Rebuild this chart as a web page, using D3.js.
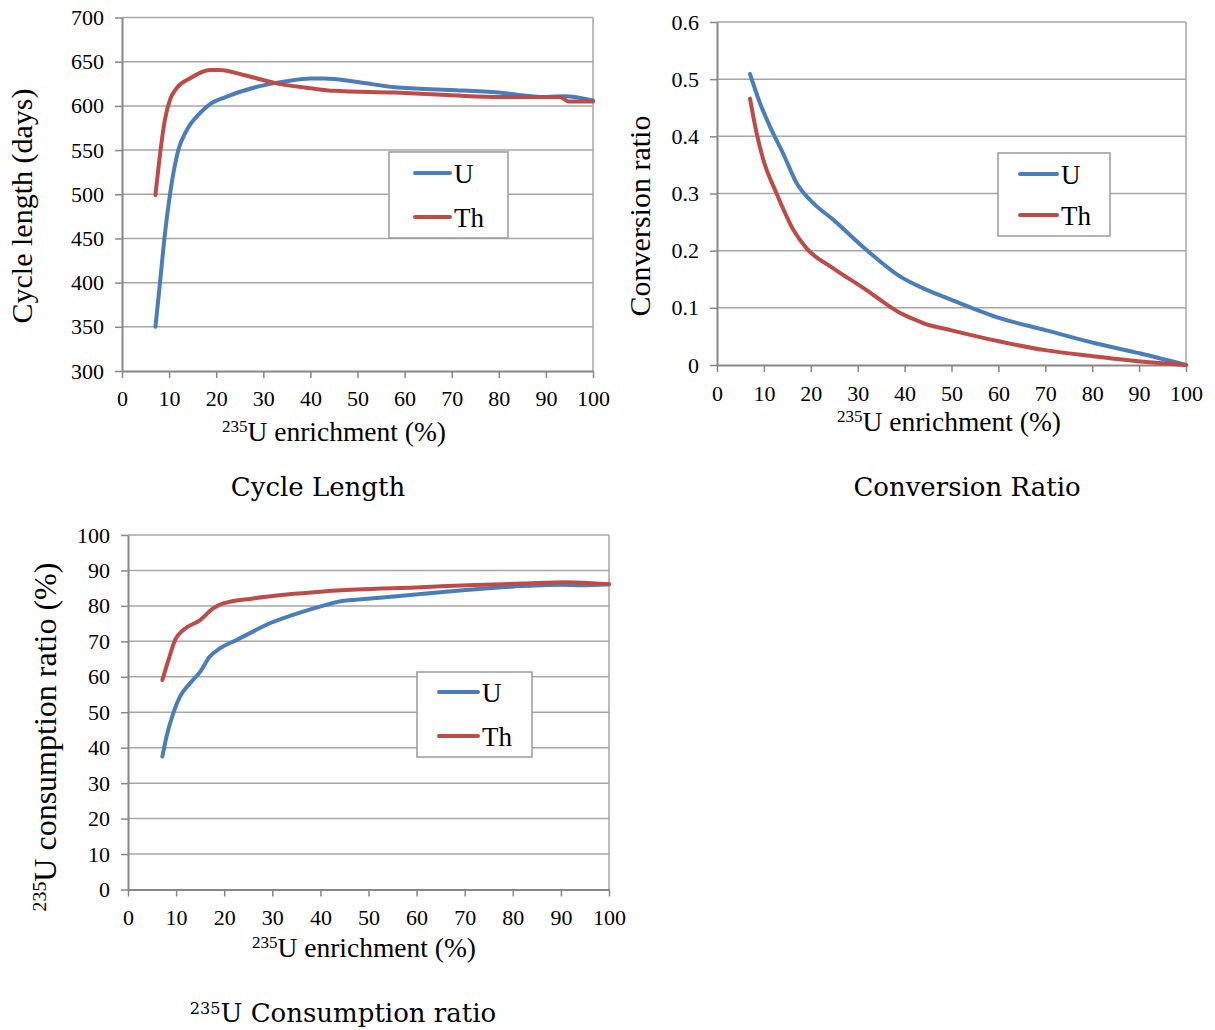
<!DOCTYPE html>
<html>
<head>
<meta charset="utf-8">
<script src="https://cdn.jsdelivr.net/npm/d3@7"></script>
<style>
  html, body { margin: 0; padding: 0; background: #fff; }
  svg { display: block; }
  text { font-family: "Liberation Serif", "Times New Roman", serif; fill: #000; }
  .caption { font-family: "DejaVu Serif", serif; }
</style>
</head>
<body>
<svg id="chart" width="1215" height="1030"></svg>
<script>
// ---------------- DATA ----------------
const seriesNames = ["U", "Th"];
const xTicks = [0, 10, 20, 30, 40, 50, 60, 70, 80, 90, 100];

// Panel 1: Cycle length (days)
const cycleTicks = [300, 350, 400, 450, 500, 550, 600, 650, 700];
const cycleU_x = [7.1, 8.07, 9.0, 10.19, 11.96, 13.7, 16.6, 18.7, 22, 29, 35, 40, 43, 50, 58, 70, 80, 90, 94, 100];
const cycleU_y = [350, 400, 450, 500, 550, 572, 592, 602, 610, 622, 628, 631, 631, 627, 621, 618, 615, 610, 611, 606];
const cycleTh_x = [7.1, 8, 9.1, 10.2, 11.6, 14.4, 18.7, 20.8, 25.8, 32.8, 40, 45, 58, 70, 80, 93, 94.8, 100];
const cycleTh_y = [499, 542, 584, 607, 620, 631, 640.5, 640.5, 635, 625.5, 620, 617, 615, 612, 610, 610, 605, 605];

// Panel 2: Conversion ratio
const convTicks = [0, 0.1, 0.2, 0.3, 0.4, 0.5, 0.6];
const convU_x = [7.04, 9.17, 11.3, 14.1, 17.0, 19.8, 24.8, 31.9, 39.0, 44.0, 50, 60.3, 70, 80.6, 90.3, 100];
const convU_y = [0.509, 0.458, 0.417, 0.370, 0.318, 0.289, 0.254, 0.201, 0.155, 0.134, 0.114, 0.082, 0.061, 0.038, 0.020, 0];
const convTh_x = [7.04, 8.46, 9.88, 12.7, 16.3, 19.1, 24.8, 31.9, 36, 39.3, 42, 44.1, 49.8, 60.3, 70, 80.6, 90.3, 100];
const convTh_y = [0.466, 0.405, 0.359, 0.300, 0.236, 0.204, 0.169, 0.131, 0.107, 0.090, 0.080, 0.073, 0.061, 0.041, 0.026, 0.015, 0.006, 0];

// Panel 3: 235U consumption ratio (%)
const consTicks = [0, 10, 20, 30, 40, 50, 60, 70, 80, 90, 100];
const consU_x = [7.14, 8.0, 9.4, 10.8, 12.9, 15.0, 17.0, 19.1, 22.6, 29.5, 36.4, 39.9, 44.2, 49.9, 59.8, 69.6, 80.3, 90.1, 94.3, 100];
const consU_y = [37.5, 43.1, 49.7, 54.4, 58.2, 61.4, 65.7, 68.0, 70.4, 75.1, 78.4, 79.8, 81.3, 82.0, 83.2, 84.4, 85.5, 86.0, 85.8, 86.1];
const consTh_x = [7.14, 8.4, 9.8, 11.5, 15.0, 17.7, 19.8, 26.0, 33.0, 40.0, 47.5, 59.8, 72.1, 81.9, 91, 100];
const consTh_y = [59.1, 64.7, 70.4, 73.2, 76.0, 79.3, 80.7, 82.1, 83.2, 84.0, 84.6, 85.2, 85.9, 86.3, 86.7, 86.1];

// ---------------- STYLE ----------------
const colors = { U: "#4a7ebb", Th: "#be4b48" };
const gridColor = "#a6a6a6";
const axisColor = "#878787";

const svg = d3.select("#chart");

function zip(xs, ys) { return xs.map((x, i) => ({ x: x, y: ys[i] })); }

function supLabel(sel, sup, rest) {
  sel.append("tspan").attr("font-size", "0.62em").attr("dy", "-0.5em").text(sup);
  sel.append("tspan").attr("dy", "0.31em").text(rest);
}

function panel(cfg) {
  const x = d3.scaleLinear().domain([0, 100]).range([cfg.x0, cfg.x1]);
  const y = d3.scaleLinear().domain(cfg.yDomain).range([cfg.yBot, cfg.yTop]);
  const g = svg.append("g");

  // gridlines
  g.append("g").selectAll("line").data(cfg.yTicks.slice(1)).join("line")
    .attr("x1", cfg.x0).attr("x2", cfg.x1)
    .attr("y1", d => y(d)).attr("y2", d => y(d))
    .attr("stroke", gridColor).attr("stroke-width", 1.5);
  // right border
  g.append("line").attr("x1", cfg.x1).attr("x2", cfg.x1)
    .attr("y1", cfg.yTop).attr("y2", cfg.yBot)
    .attr("stroke", gridColor).attr("stroke-width", 1.5);

  // y axis
  const yAxis = d3.axisLeft(y).tickValues(cfg.yTicks).tickSize(7).tickSizeOuter(0)
    .tickFormat(cfg.yFormat).tickPadding(11);
  const ya = g.append("g").attr("transform", `translate(${cfg.x0},0)`).call(yAxis);
  ya.attr("font-family", null);
  ya.select(".domain").attr("stroke", axisColor).attr("stroke-width", 2);
  ya.selectAll(".tick line").attr("stroke", axisColor).attr("stroke-width", 1.5);
  ya.selectAll(".tick text").attr("font-family", "Liberation Serif, Times New Roman, serif").attr("font-size", 22).attr("fill", "#000");

  // x axis
  const xAxis = d3.axisBottom(x).tickValues(xTicks).tickSize(7).tickSizeOuter(0).tickPadding(cfg.xPad);
  const xa = g.append("g").attr("transform", `translate(0,${cfg.yBot})`).call(xAxis);
  xa.attr("font-family", null);
  xa.select(".domain").attr("stroke", axisColor).attr("stroke-width", 2);
  xa.selectAll(".tick line").attr("stroke", axisColor).attr("stroke-width", 1.5);
  xa.selectAll(".tick text").attr("font-family", "Liberation Serif, Times New Roman, serif").attr("font-size", 22).attr("fill", "#000");

  // lines
  const line = d3.line().x(d => x(d.x)).y(d => y(d.y)).curve(d3.curveMonotoneX);
  cfg.series.forEach(s => {
    g.append("path").datum(s.data).attr("d", line)
      .attr("fill", "none").attr("stroke", colors[s.name])
      .attr("stroke-width", 4).attr("stroke-linecap", "round").attr("stroke-linejoin", "round");
  });

  // x title
  const xt = g.append("text").attr("x", cfg.xTitleX).attr("y", cfg.xTitleY)
    .attr("text-anchor", "middle").attr("font-size", 27.5);
  supLabel(xt, "235", "U enrichment (%)");

  // y title
  const yt = g.append("text")
    .attr("transform", `translate(${cfg.yTitleX},${cfg.yTitleY}) rotate(-90)`)
    .attr("text-anchor", "middle").attr("font-size", cfg.yTitleSize);
  if (cfg.yTitleSup) supLabel(yt, cfg.yTitleSup, cfg.yTitle);
  else yt.text(cfg.yTitle);

  // legend
  const L = cfg.legend;
  const lg = g.append("g");
  lg.append("rect").attr("x", L.x).attr("y", L.y).attr("width", L.w).attr("height", L.h)
    .attr("fill", "#fff").attr("stroke", "#9a9a9a").attr("stroke-width", 1.5);
  seriesNames.forEach((name, i) => {
    const ly = L.rowY[i];
    lg.append("line").attr("x1", L.lx1).attr("x2", L.lx2).attr("y1", ly).attr("y2", ly)
      .attr("stroke", colors[name]).attr("stroke-width", 4).attr("stroke-linecap", "round");
    lg.append("text").attr("x", L.lx2 + 4).attr("y", ly + 10).attr("font-size", 27).text(name);
  });

  // caption
  if (cfg.caption) {
    const ct = svg.append("text").attr("class", "caption")
      .attr("x", cfg.caption.x).attr("y", cfg.caption.y)
      .attr("text-anchor", "middle").attr("font-size", 26)
      .attr("font-family", "DejaVu Serif");
    if (cfg.caption.sup) supLabel(ct, cfg.caption.sup, cfg.caption.text);
    else ct.text(cfg.caption.text);
  }
}

panel({
  x0: 122, x1: 593, yTop: 17.5, yBot: 371,
  yDomain: [300, 700], yTicks: cycleTicks, yFormat: d3.format("d"), xPad: 12,
  series: [{ name: "U", data: zip(cycleU_x, cycleU_y) }, { name: "Th", data: zip(cycleTh_x, cycleTh_y) }],
  xTitleX: 334, xTitleY: 441,
  yTitle: "Cycle length (days)", yTitleX: 32, yTitleY: 206, yTitleSize: 30,
  legend: { x: 389, y: 152, w: 119, h: 86, lx1: 415, lx2: 450, rowY: [173, 217] },
  caption: { x: 318, y: 496, text: "Cycle Length" }
});

panel({
  x0: 717, x1: 1186, yTop: 22, yBot: 365,
  yDomain: [0, 0.6], yTicks: convTicks, yFormat: d => d === 0 ? "0" : d3.format(".1f")(d), xPad: 13,
  series: [{ name: "U", data: zip(convU_x, convU_y) }, { name: "Th", data: zip(convTh_x, convTh_y) }],
  xTitleX: 949, xTitleY: 431,
  yTitle: "Conversion ratio", yTitleX: 650, yTitleY: 216, yTitleSize: 30,
  legend: { x: 998, y: 153, w: 112, h: 83, lx1: 1020, lx2: 1057, rowY: [174, 215] },
  caption: { x: 967, y: 496, text: "Conversion Ratio" }
});

panel({
  x0: 128, x1: 609, yTop: 535, yBot: 889.5,
  yDomain: [0, 100], yTicks: consTicks, yFormat: d3.format("d"), xPad: 13,
  series: [{ name: "U", data: zip(consU_x, consU_y) }, { name: "Th", data: zip(consTh_x, consTh_y) }],
  xTitleX: 364, xTitleY: 957,
  yTitle: "U consumption ratio (%)", yTitleSup: "235", yTitleX: 56, yTitleY: 737, yTitleSize: 32,
  legend: { x: 417, y: 672, w: 115, h: 85, lx1: 439, lx2: 478, rowY: [692, 736] },
  caption: { x: 343, y: 1022, text: "U Consumption ratio", sup: "235" }
});
</script>
</body>
</html>
